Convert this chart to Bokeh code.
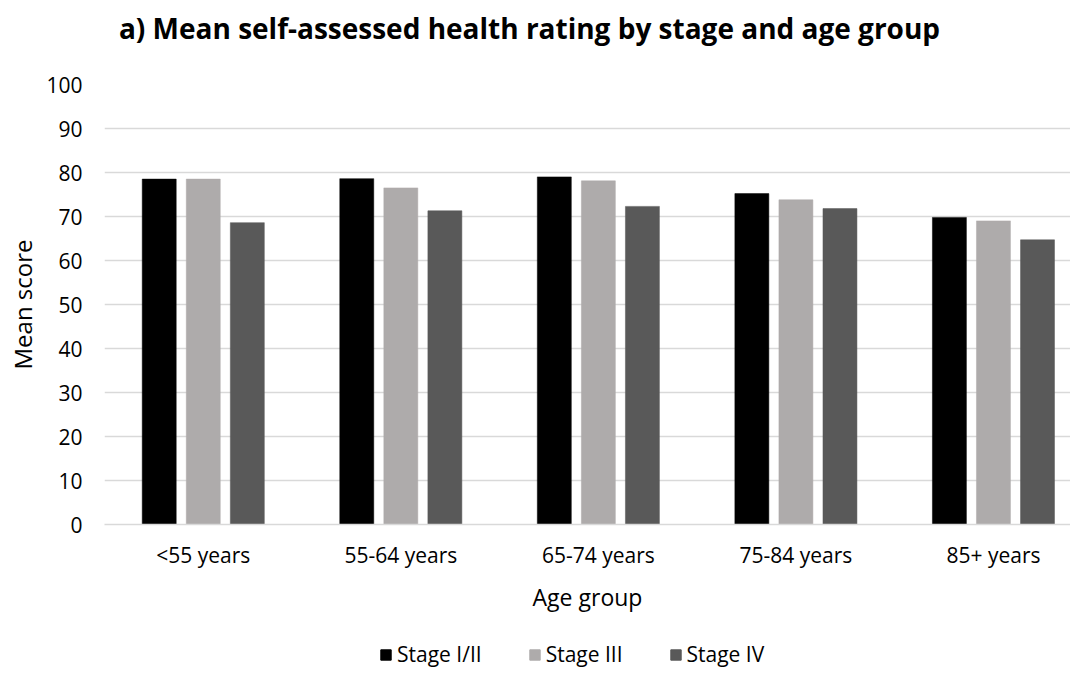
import numpy as np
from bokeh.plotting import figure
from bokeh.layouts import column
from bokeh.models import Range1d, FixedTicker, Legend, LegendItem, ColumnDataSource, Label
from bokeh.embed import file_html
from bokeh.resources import INLINE

age_groups = ["<55 years", "55-64 years", "65-74 years", "75-84 years", "85+ years"]
stage_12 = [78.5, 78.6, 79.0, 75.2, 69.8]
stage_3 = [78.5, 76.5, 78.1, 73.8, 69.0]
stage_4 = [68.6, 71.3, 72.3, 71.8, 64.7]
series_names = ["Stage I/II", "Stage III", "Stage IV"]
colors = ["#000000", "#AEABAB", "#595959"]
y_ticks = list(range(0, 101, 10))
title_text = "a) Mean self-assessed health rating by stage and age group"

FONT = "Open Sans"
W = 1070
T_H = 60      # title strip
M_H = 560     # main chart
L_H = 48      # legend strip


def blank(h):
    f = figure(width=W, height=h, output_backend="svg", toolbar_location=None,
               x_range=Range1d(0, 1), y_range=Range1d(0, 1),
               x_axis_type=None, y_axis_type=None,
               min_border_left=0, min_border_right=0, min_border_top=0, min_border_bottom=0)
    f.outline_line_color = None
    f.xgrid.visible = False
    f.ygrid.visible = False
    return f


# ---- title strip
pt = blank(T_H)
pt.add_layout(Label(x=425, y=33, x_units="screen", y_units="screen", text=title_text,
                    text_align="center", text_baseline="middle",
                    text_font=FONT, text_font_style="bold", text_font_size="28px",
                    text_color="#000000"))

# ---- main chart
p = figure(width=W, height=M_H, output_backend="svg", toolbar_location=None,
           x_range=Range1d(0, 4.89), y_range=Range1d(0, 100),
           min_border_left=104, min_border_right=0, min_border_top=24, min_border_bottom=96)
p.outline_line_color = None

centers = np.arange(len(age_groups)) + 0.5
offsets = [-0.223, 0.0, 0.223]
bar_w = 0.172
for vals, off, col in zip([stage_12, stage_3, stage_4], offsets, colors):
    src = ColumnDataSource(dict(x=centers + off, top=vals))
    p.vbar(x="x", top="top", bottom=0, width=bar_w, source=src,
           fill_color=col, line_color=col, line_width=0.5)

p.xaxis.ticker = FixedTicker(ticks=list(centers))
p.xaxis.major_label_overrides = {float(c): g for c, g in zip(centers, age_groups)}
p.xaxis.major_tick_line_color = None
p.xaxis.minor_tick_line_color = None
p.xaxis.axis_line_color = "#D9D9D9"
p.xaxis.axis_line_width = 1.5
p.xaxis.major_label_standoff = 10
p.xaxis.major_label_text_font = FONT
p.xaxis.major_label_text_font_size = "21px"
p.xaxis.major_label_text_color = "#000000"
p.xaxis.axis_label = "Age group"
p.xaxis.axis_label_text_font = FONT
p.xaxis.axis_label_text_font_style = "normal"
p.xaxis.axis_label_text_font_size = "23px"
p.xaxis.axis_label_text_color = "#000000"
p.xaxis.axis_label_standoff = 9

p.yaxis.ticker = FixedTicker(ticks=y_ticks)
p.yaxis.major_tick_line_color = None
p.yaxis.minor_tick_line_color = None
p.yaxis.axis_line_color = None
p.yaxis.major_label_standoff = 16
p.yaxis.major_label_text_font = FONT
p.yaxis.major_label_text_font_size = "21px"
p.yaxis.major_label_text_color = "#000000"
p.yaxis.axis_label = "Mean score"
p.yaxis.axis_label_text_font = FONT
p.yaxis.axis_label_text_font_style = "normal"
p.yaxis.axis_label_text_font_size = "24px"
p.yaxis.axis_label_text_color = "#000000"
p.yaxis.axis_label_standoff = 4

p.xgrid.grid_line_color = None
p.ygrid.grid_line_color = "#D9D9D9"
p.ygrid.grid_line_width = 1.5

# ---- legend strip
pl = blank(L_H)
items = []
for name, vals, col in zip(series_names, [stage_12, stage_3, stage_4], colors):
    src = ColumnDataSource(dict(x=centers, top=vals))
    r = pl.vbar(x="x", top="top", bottom=0, width=bar_w, source=src,
                fill_color=col, line_color=col, visible=False)
    items.append(LegendItem(label=name, renderers=[r]))
legend = Legend(items=items, orientation="horizontal", location=(275, 0),
                glyph_width=13, glyph_height=13, label_standoff=5, spacing=46,
                padding=0, margin=0, border_line_color=None, background_fill_alpha=0,
                inactive_fill_alpha=0,
                label_text_font=FONT, label_text_font_size="21px", label_text_color="#000000")
pl.add_layout(legend, "center")

layout = column(pt, p, pl, spacing=0)
open("out.html", "w").write(file_html(layout, INLINE))
